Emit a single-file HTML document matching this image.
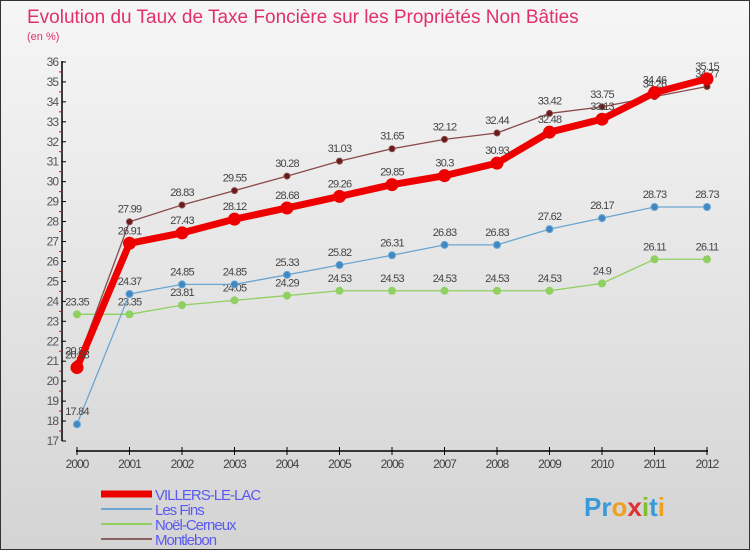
<!DOCTYPE html>
<html><head><meta charset="utf-8"><style>
body{margin:0;width:750px;height:550px;overflow:hidden;font-family:"Liberation Sans",sans-serif}
#c{position:absolute;left:0;top:0;width:748px;height:548px;border:1px solid #333;background:linear-gradient(#f6f6f6,#d4d4d4)}
</style></head><body>
<div id="c">
<svg width="750" height="550" id="svg">
<text x="26" y="22" font-size="19" fill="#e0306a">Evolution du Taux de Taxe Foncière sur les Propriétés Non Bâties</text>
<text x="26" y="39" font-size="11" fill="#e0306a">(en %)</text>
</svg></div>
<script>
const years=[2000,2001,2002,2003,2004,2005,2006,2007,2008,2009,2010,2011,2012];
const villers=[20.68,26.91,27.43,28.12,28.68,29.26,29.85,30.3,30.93,32.48,33.13,34.46,35.15];
const lesFins=[17.84,24.37,24.85,24.85,25.33,25.82,26.31,26.83,26.83,27.62,28.17,28.73,28.73];
const noel=[23.35,23.35,23.81,24.05,24.29,24.53,24.53,24.53,24.53,24.53,24.9,26.11,26.11];
const montlebon=[20.88,27.99,28.83,29.55,30.28,31.03,31.65,32.12,32.44,33.42,33.75,34.26,34.77];
const yTicks=[17,18,19,20,21,22,23,24,25,26,27,28,29,30,31,32,33,34,35,36];
const NS="http://www.w3.org/2000/svg",svg=document.getElementById('svg');
const X=i=>76+i*52.5, Y=v=>440-(v-17)*19.95;
function mk(t,a,p){const e=document.createElementNS(NS,t);for(const k in a)e.setAttribute(k,a[k]);(p||svg).appendChild(e);return e;}
// y axis
let ya=mk('line',{x1:61,y1:60,x2:61,y2:440,stroke:'#000','stroke-width':1.5});


yTicks.forEach(v=>{
  mk('line',{x1:61,y1:Y(v),x2:65,y2:Y(v),stroke:'#000'});
  if(v<36)mk('line',{x1:58,y1:Y(v+0.5),x2:61,y2:Y(v+0.5),stroke:'#e00'});
  const t=mk('text',{x:57,y:Y(v)+4,'font-size':12,fill:'#555','text-anchor':'end','letter-spacing':'-1'});
  t.textContent=v;
  
  
});
let xa=mk('line',{x1:75,y1:450,x2:707,y2:450,stroke:'#000','stroke-width':1.5});


years.forEach((y,i)=>{
  mk('line',{x1:X(i),y1:446,x2:X(i),y2:454,stroke:'#000'});
  const t=mk('text',{x:X(i),y:467,'font-size':12,fill:'#444','text-anchor':'middle','letter-spacing':'-1'});
  t.textContent=y;
  
  
});
function series(d,col,dot,w,r,name){
  const g=mk('g',{});
  
  
  mk('polyline',{points:d.map((v,i)=>X(i)+','+Y(v)).join(' '),fill:'none',stroke:col,'stroke-width':w},g);
  d.forEach((v,i)=>{
    mk('circle',{cx:X(i),cy:Y(v),r:r,fill:dot,stroke:col,'stroke-width':1},g);
    const t=mk('text',{x:X(i),y:Y(v)-9,'font-size':11,fill:'#444','text-anchor':'middle','letter-spacing':'-0.8'},g);
    t.textContent=v;
  });
}
series(noel,'#8fd060','#8fd060',1.3,3.5,'series-noel-cerneux');
series(lesFins,'#6aa6d0','#3f88c4',1.3,3.5,'series-les-fins');
series(montlebon,'#8a4a4a','#6a1a1a',1.3,3,'series-montlebon');
series(villers,'#ee0000','#ee0000',7,6,'series-villers-le-lac');
const leg=[['VILLERS-LE-LAC','#ee0000',7],['Les Fins','#6aa6d0',2],['Noël-Cerneux','#8fd060',2],['Montlebon','#8a6060',2]];
leg.forEach((l,i)=>{
  const y=493+i*15;
  const g=mk('g',{});
  
  
  mk('line',{x1:100,y1:y,x2:151,y2:y,stroke:l[1],'stroke-width':l[2]},g);
  const t=mk('text',{x:154,y:y+6,'font-size':15,fill:'#5a5af0','letter-spacing':'-1'},g);t.textContent=l[0];
});
const lg=mk('text',{x:583,y:515,'font-size':26,'font-weight':'bold',fill:'#3a9ad8'});


lg.innerHTML='Pr<tspan fill="#f0a020">o</tspan><tspan fill="#e03030">x</tspan><tspan fill="#80c030">i</tspan>t<tspan fill="#f0a020">i</tspan>';
</script></body></html>
